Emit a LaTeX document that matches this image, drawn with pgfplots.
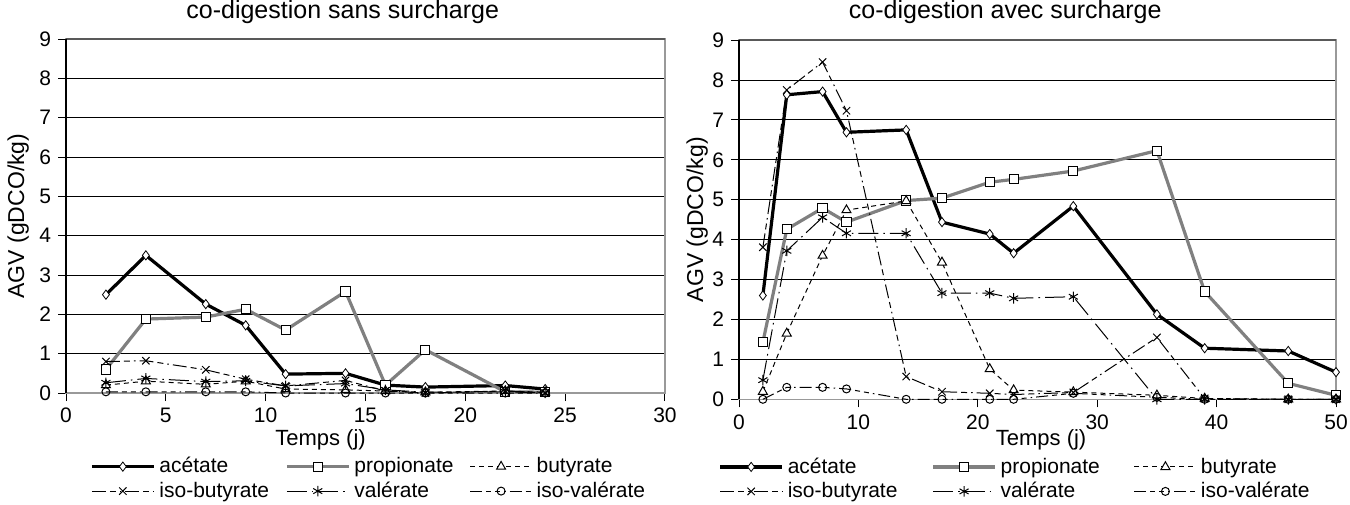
\documentclass[border=0pt]{standalone}
\usepackage{pgfplots}
\pgfplotsset{compat=1.18}
\usepackage{fontspec}
\setmainfont{Liberation Sans}
\begin{document}
\begin{tikzpicture}
\useasboundingbox (0pt,0pt) rectangle (675pt,252pt);
\pgfplotsset{
  agv/.style={
    scale only axis,
    ymin=0, ymax=9, ytick={0,...,9},
    ymajorgrids, major grid style={black, line width=0.5pt},
    axis line style={draw=black!40, line width=0.8pt},
    xtick pos=bottom, ytick pos=left,
    tick align=outside, major tick length=4pt,
    tick style={black, line width=0.5pt},
    /pgf/number format/assume math mode=true,
    tick label style={font=\fontsize{10.5}{12}\selectfont},
    ylabel style={font=\fontsize{11.5}{13}\selectfont},
    xlabel style={font=\fontsize{11}{13}\selectfont},
    title style={font=\fontsize{12.5}{14}\selectfont},
    legend cell align=left,
    legend image code/.code={\draw[mark repeat=2,mark phase=2,##1] plot coordinates {(0pt,0pt) (15.5pt,0pt) (31pt,0pt)};},
    clip=false,
  },
  acet/.style={black, line width=1.6pt, mark=diamond*, mark size=2.3pt, mark options={solid, fill=white, draw=black, line width=0.4pt}},
  prop/.style={black!50, line width=1.6pt, mark=square*, mark size=2.3pt, mark options={solid, fill=white, draw=black, line width=0.5pt}},
  buty/.style={black, line width=0.5pt, dash pattern=on 2.5pt off 2pt, mark=triangle*, mark size=2.6pt, mark options={solid, fill=white, draw=black}},
  isob/.style={black, line width=0.5pt, dash pattern=on 7pt off 2pt on 3pt off 2pt on 0.8pt off 2pt, mark=x, mark size=2.6pt, mark options={solid}},
  vale/.style={black, line width=0.5pt, dash pattern=on 10pt off 2.5pt on 0.8pt off 2.5pt, mark=asterisk, mark size=2.6pt, mark options={solid}},
  isov/.style={black, line width=0.5pt, dash pattern=on 6pt off 2pt on 2.5pt off 2pt on 2.5pt off 2pt on 0.8pt off 2pt, mark=o, mark size=2pt, mark options={solid}},
}
% ---------------- left ----------------
\begin{axis}[agv,
  at={(33pt,55.5pt)}, anchor=origin,
  width=299.5pt, height=177pt,
  xmin=0, xmax=30, xtick={0,5,...,30},
  title={co-digestion sans surcharge},
  title style={at={(axis description cs:0.462,1)}, anchor=center, yshift=7.5pt},
  xlabel={Temps (j)},
  xlabel style={at={(axis description cs:0.425,0)}, anchor=center, yshift=-23.5pt},
  ylabel={AGV (gDCO/kg)},
  ylabel style={at={(axis description cs:-0.080,0.5)}, anchor=center},
  legend columns=3,
  legend style={draw=none, at={(axis description cs:0.507,0)}, anchor=north, yshift=-30pt,
    font=\fontsize{10.5}{11}\selectfont, inner sep=0pt, row sep=-1pt,
    /tikz/every even column/.append style={column sep=6pt}},
]
\addplot[acet] coordinates {(2,2.5) (4,3.5) (7,2.26) (9,1.72) (11,0.48) (14,0.5) (16,0.2) (18,0.15) (22,0.19) (24,0.1)};
\addlegendentry{acétate}
\addplot[prop] coordinates {(2,0.6) (4,1.88) (7,1.93) (9,2.13) (11,1.6) (14,2.58) (16,0.2) (18,1.1) (22,0.03) (24,0.02)};
\addlegendentry{propionate}
\addplot[buty] coordinates {(2,0.2) (4,0.3) (7,0.22) (9,0.3) (11,0.1) (14,0.08) (16,0.05) (18,0.02) (22,0.05) (24,0.02)};
\addlegendentry{butyrate}
\addplot[isob] coordinates {(2,0.8) (4,0.82) (7,0.59) (9,0.35) (11,0.18) (14,0.32) (16,0.05) (18,0.0) (22,0.05) (24,0.0)};
\addlegendentry{iso-butyrate}
\addplot[vale] coordinates {(2,0.26) (4,0.37) (7,0.29) (9,0.31) (11,0.18) (14,0.24) (16,0.08) (18,0.02) (22,0.03) (24,0.0)};
\addlegendentry{valérate}
\addplot[isov] coordinates {(2,0.03) (4,0.03) (7,0.03) (9,0.03) (11,0.0) (14,0.0) (16,0.0) (18,0.0) (22,0.0) (24,0.0)};
\addlegendentry{iso-valérate}
\draw[black!65, line width=1pt] (rel axis cs:0,1) -- (rel axis cs:1,1);
\draw[black, line width=0.8pt] (rel axis cs:0,0) -- (rel axis cs:0,1);
\end{axis}
% ---------------- right ----------------
\begin{axis}[agv,
  at={(369.5pt,52.35pt)}, anchor=origin,
  width=298.5pt, height=179.6pt,
  xmin=0, xmax=50, xtick={0,10,...,50},
  title={co-digestion avec surcharge},
  title style={at={(axis description cs:0.446,1)}, anchor=center, yshift=8pt},
  xlabel={Temps (j)},
  xlabel style={at={(axis description cs:0.506,0)}, anchor=center, yshift=-20.5pt},
  ylabel={AGV (gDCO/kg)},
  ylabel style={at={(axis description cs:-0.070,0.5)}, anchor=center},
  legend columns=3,
  legend style={draw=none, at={(axis description cs:0.464,0)}, anchor=north, yshift=-27pt,
    font=\fontsize{10.5}{11}\selectfont, inner sep=0pt, row sep=-1pt,
    /tikz/every even column/.append style={column sep=15pt}},
]
\addplot[acet] coordinates {(2,2.6) (4,7.63) (7,7.71) (9,6.69) (14,6.75) (17,4.44) (21,4.14) (23,3.66) (28,4.84) (35,2.13) (39,1.28) (46,1.21) (50,0.68)};
\addlegendentry{acétate}
\addplot[prop] coordinates {(2,1.43) (4,4.26) (7,4.79) (9,4.44) (14,4.98) (17,5.04) (21,5.44) (23,5.51) (28,5.72) (35,6.23) (39,2.7) (46,0.4) (50,0.1)};
\addlegendentry{propionate}
\addplot[buty] coordinates {(2,0.19) (4,1.65) (7,3.6) (9,4.74) (14,4.97) (17,3.43) (21,0.76) (23,0.23) (28,0.18) (35,0.1) (39,0.02) (46,0) (50,0)};
\addlegendentry{butyrate}
\addplot[isob] coordinates {(2,3.81) (4,7.75) (7,8.45) (9,7.23) (14,0.57) (17,0.19) (21,0.15) (23,0.12) (28,0.17) (35,1.55) (39,0.02) (46,0) (50,0)};
\addlegendentry{iso-butyrate}
\addplot[vale] coordinates {(2,0.48) (4,3.72) (7,4.56) (9,4.16) (14,4.16) (17,2.66) (21,2.66) (23,2.53) (28,2.57) (35,0.0) (39,0.0) (46,0) (50,0)};
\addlegendentry{valérate}
\addplot[isov] coordinates {(2,0.0) (4,0.3) (7,0.3) (9,0.26) (14,0.0) (17,0.0) (21,0.0) (23,0.0) (28,0.15) (35,0.05) (39,0) (46,0) (50,0)};
\addlegendentry{iso-valérate}
\draw[black!65, line width=1pt] (rel axis cs:0,1) -- (rel axis cs:1,1);
\draw[black, line width=0.8pt] (rel axis cs:0,0) -- (rel axis cs:0,1);
\end{axis}
\end{tikzpicture}
\end{document}
